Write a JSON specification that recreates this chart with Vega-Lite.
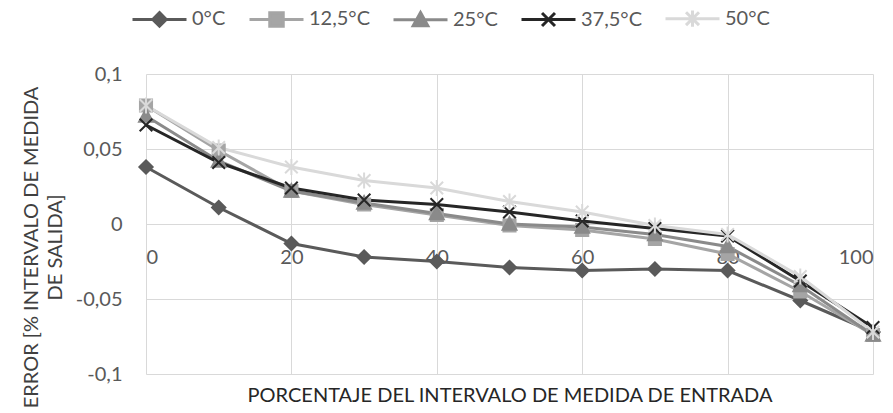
{
  "$schema": "https://vega.github.io/schema/vega-lite/v6.json",
  "width": 727,
  "height": 300,
  "autosize": {"type": "none"},
  "padding": {"left": 146, "top": 74, "right": 20, "bottom": 39},
  "background": "white",
  "config": {
    "view": {"stroke": null},
    "font": "Lato",
    "axis": {"gridColor": "#d9d9d9", "gridWidth": 1, "domain": false, "ticks": false, "labelFont": "Lato", "labelFontSize": 20, "labelColor": "#595959", "titleFont": "Lato", "titleFontSize": 20, "titleFontWeight": "normal", "titleColor": "#404040"}
  },
  "data": {"values": [
    {"x": 0, "s": "0°C", "v": 0.038}, {"x": 10, "s": "0°C", "v": 0.011}, {"x": 20, "s": "0°C", "v": -0.013}, {"x": 30, "s": "0°C", "v": -0.022}, {"x": 40, "s": "0°C", "v": -0.025}, {"x": 50, "s": "0°C", "v": -0.029}, {"x": 60, "s": "0°C", "v": -0.031}, {"x": 70, "s": "0°C", "v": -0.030}, {"x": 80, "s": "0°C", "v": -0.031}, {"x": 90, "s": "0°C", "v": -0.051}, {"x": 100, "s": "0°C", "v": -0.072},
    {"x": 0, "s": "12,5°C", "v": 0.079}, {"x": 10, "s": "12,5°C", "v": 0.049}, {"x": 20, "s": "12,5°C", "v": 0.022}, {"x": 30, "s": "12,5°C", "v": 0.013}, {"x": 40, "s": "12,5°C", "v": 0.006}, {"x": 50, "s": "12,5°C", "v": -0.001}, {"x": 60, "s": "12,5°C", "v": -0.004}, {"x": 70, "s": "12,5°C", "v": -0.010}, {"x": 80, "s": "12,5°C", "v": -0.020}, {"x": 90, "s": "12,5°C", "v": -0.045}, {"x": 100, "s": "12,5°C", "v": -0.074},
    {"x": 0, "s": "25°C", "v": 0.072}, {"x": 10, "s": "25°C", "v": 0.042}, {"x": 20, "s": "25°C", "v": 0.022}, {"x": 30, "s": "25°C", "v": 0.014}, {"x": 40, "s": "25°C", "v": 0.007}, {"x": 50, "s": "25°C", "v": 0.000}, {"x": 60, "s": "25°C", "v": -0.002}, {"x": 70, "s": "25°C", "v": -0.007}, {"x": 80, "s": "25°C", "v": -0.015}, {"x": 90, "s": "25°C", "v": -0.041}, {"x": 100, "s": "25°C", "v": -0.074},
    {"x": 0, "s": "37,5°C", "v": 0.066}, {"x": 10, "s": "37,5°C", "v": 0.041}, {"x": 20, "s": "37,5°C", "v": 0.024}, {"x": 30, "s": "37,5°C", "v": 0.016}, {"x": 40, "s": "37,5°C", "v": 0.013}, {"x": 50, "s": "37,5°C", "v": 0.008}, {"x": 60, "s": "37,5°C", "v": 0.002}, {"x": 70, "s": "37,5°C", "v": -0.003}, {"x": 80, "s": "37,5°C", "v": -0.008}, {"x": 90, "s": "37,5°C", "v": -0.038}, {"x": 100, "s": "37,5°C", "v": -0.069},
    {"x": 0, "s": "50°C", "v": 0.079}, {"x": 10, "s": "50°C", "v": 0.051}, {"x": 20, "s": "50°C", "v": 0.038}, {"x": 30, "s": "50°C", "v": 0.029}, {"x": 40, "s": "50°C", "v": 0.024}, {"x": 50, "s": "50°C", "v": 0.015}, {"x": 60, "s": "50°C", "v": 0.008}, {"x": 70, "s": "50°C", "v": -0.001}, {"x": 80, "s": "50°C", "v": -0.007}, {"x": 90, "s": "50°C", "v": -0.035}, {"x": 100, "s": "50°C", "v": -0.072}
  ]},
  "encoding": {
    "x": {"field": "x", "type": "quantitative", "scale": {"domain": [0, 100], "nice": false, "zero": false},
      "axis": {"values": [0, 20, 40, 60, 80, 100], "offset": -150, "labelPadding": 23, "title": "PORCENTAJE DEL INTERVALO DE MEDIDA DE ENTRADA", "titleY": 171, "titleBaseline": "middle", "titleColor": "#262626"}},
    "y": {"field": "v", "type": "quantitative", "scale": {"domain": [-0.1, 0.1], "nice": false, "zero": false},
      "axis": {"values": [-0.1, -0.05, 0, 0.05, 0.1], "labelPadding": 24, "labelExpr": "replace(toString(datum.value), '.', ',')", "title": ["ERROR [% INTERVALO DE MEDIDA", "DE SALIDA]"], "titleFontSize": 20, "titleLimit": 1000, "titleAngle": -90, "titleX": -115, "titleY": 173, "titleAlign": "center", "titleBaseline": "middle", "titleLineHeight": 24}}
  },
  "layer": [
    {
      "mark": {"type": "line", "strokeWidth": 3},
      "encoding": {
        "color": {"field": "s", "type": "nominal", "sort": ["0°C", "12,5°C", "25°C", "37,5°C", "50°C"],
          "scale": {"domain": ["0°C", "12,5°C", "25°C", "37,5°C", "50°C"], "range": ["#5a5a5a", "#a5a5a5", "#8a8a8a", "#262626", "#d9d9d9"]},
          "legend": {"orient": "none", "direction": "horizontal", "columns": 5, "legendX": -15, "legendY": -84, "title": null, "padding": 0, "columnPadding": 17, "symbolSize": 2916, "labelOffset": 4, "labelFont": "Lato", "labelFontSize": 20, "labelColor": "#595959",
            "encode": {"symbols": {"update": {
              "shape": [
                {"test": "datum.value === '0°C'", "value": "M-1,0H1M0,-0.25L0.25,0L0,0.25L-0.25,0Z"},
                {"test": "datum.value === '12,5°C'", "value": "M-1,0H1M-0.25,-0.25H0.25V0.25H-0.25Z"},
                {"test": "datum.value === '25°C'", "value": "M-1,0H1M0,-0.27L0.27,0.22H-0.27Z"},
                {"test": "datum.value === '37,5°C'", "value": "M-1,0H1M-0.24,-0.24L0.24,0.24M-0.24,0.24L0.24,-0.24"},
                {"value": "M-1,0H1M-0.24,-0.24L0.24,0.24M-0.24,0.24L0.24,-0.24M0,-0.3V0.3"}
              ],
              "fill": {"scale": "color", "field": "value"},
              "stroke": {"scale": "color", "field": "value"},
              "strokeWidth": {"value": 3},
              "opacity": {"value": 1}
            }}}
          }}
      }
    },
    {"transform": [{"filter": "datum.s === '0°C'"}], "mark": {"type": "point", "filled": true, "size": 196, "strokeWidth": 1.5, "opacity": 1, "shape": "M0,-1L1,0L0,1L-1,0Z", "fill": "#5a5a5a", "stroke": "#5a5a5a"}},
    {"transform": [{"filter": "datum.s === '12,5°C'"}], "mark": {"type": "point", "filled": true, "size": 196, "strokeWidth": 1.5, "opacity": 1, "shape": "M-0.9,-0.9H0.9V0.9H-0.9Z", "fill": "#a5a5a5", "stroke": "#a5a5a5"}},
    {"transform": [{"filter": "datum.s === '25°C'"}], "mark": {"type": "point", "filled": true, "size": 196, "strokeWidth": 1.5, "opacity": 1, "shape": "M0,-1.05L1.05,0.85H-1.05Z", "fill": "#8a8a8a", "stroke": "#8a8a8a"}},
    {"transform": [{"filter": "datum.s === '37,5°C'"}], "mark": {"type": "point", "filled": true, "size": 196, "strokeWidth": 2, "opacity": 1, "shape": "M-0.9,-0.9L0.9,0.9M-0.9,0.9L0.9,-0.9", "fill": "#262626", "stroke": "#262626"}},
    {"transform": [{"filter": "datum.s === '50°C'"}], "mark": {"type": "point", "filled": true, "size": 196, "strokeWidth": 2, "opacity": 1, "shape": "M-0.9,-0.9L0.9,0.9M-0.9,0.9L0.9,-0.9M0,-1.15V1.15", "fill": "#d9d9d9", "stroke": "#d9d9d9"}}
  ]
}
